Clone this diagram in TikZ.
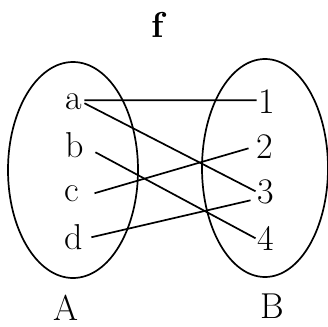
\documentclass[tikz,border=0pt]{standalone}
\usepackage{fontspec}
\usepackage{tikz}
\usetikzlibrary{positioning}

\begin{document}
\begin{tikzpicture}[
  x=1pt, y=-1pt,
  every node/.style={font=\fontsize{36}{40}\selectfont, inner sep=2pt},
  elem/.style={anchor=base, text height=15.5pt, text depth=0pt},
  num/.style={anchor=base, text height=23.4pt, text depth=0pt},
  setline/.style={line width=1.7pt},
]
\useasboundingbox (0,0) rectangle (328,326);

% Sets
\draw[setline] (73,170) ellipse [x radius=65, y radius=108];
\draw[setline] (265,168) ellipse [x radius=63, y radius=109];

% Title and set names
\node[anchor=base] (f) at (159,38) {\textbf{f}};
\node[anchor=base] (A) at (66,320) {A};
\node[anchor=base] (B) at (272,318) {B};

% Elements of A
\node[elem] (a) at (74,109) {a};
\node[elem] (b) at (75,157) {b};
\node[elem] (c) at (72,201) {c};
\node[elem] (d) at (74,249) {d};

% Elements of B
\node[num] (n1) at (267,113) {1};
\node[num] (n2) at (265,158) {2};
\node[num] (n3) at (266,203) {3};
\node[num] (n4) at (266,250) {4};

% Mapping
\draw[setline] ([yshift=1pt]a.east) -- ([yshift=1pt]n1.west);
\draw[setline] ([yshift=-2pt]a.east) -- (n3.west);
\draw[setline] ([xshift=9pt,yshift=-3pt]b.east) -- (n4.west);
\draw[setline] ([xshift=13pt]c.east) -- ([xshift=-6pt,yshift=-2pt]n2.west);
\draw[setline] ([xshift=6pt,yshift=4pt]d.east) -- ([xshift=-5pt,yshift=-9pt]n3.west);

\end{tikzpicture}
\end{document}
